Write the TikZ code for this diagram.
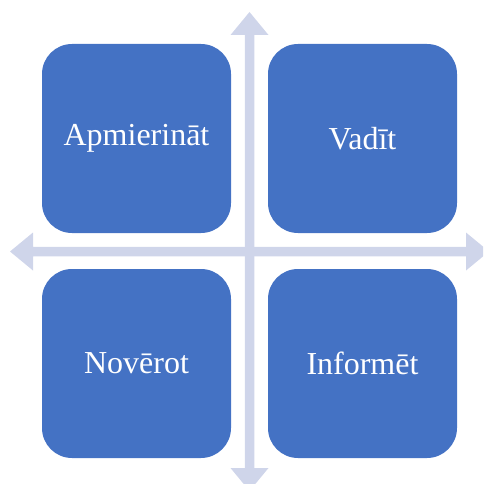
\documentclass[tikz,border=0pt]{standalone}
\usepackage{fontspec}
\setmainfont{Liberation Serif}
\definecolor{boxblue}{HTML}{4472C4}
\definecolor{axiscol}{HTML}{CFD5EA}
\tikzset{
  quad/.style={fill=boxblue, draw=none, rounded corners=30pt, minimum width=189pt, minimum height=189pt, inner sep=0pt, text=white, font=\fontsize{32}{38}\selectfont},
  axis/.style={fill=axiscol, draw=none}
}
\begin{document}
\begin{tikzpicture}[x=1pt,y=-1pt]
\useasboundingbox (0,0) rectangle (483,484);
\begin{scope}
\clip (0,0) rectangle (483,484);
% vertical axis
\fill[axis] (249.5,12) -- (268.5,35) -- (254.25,35) -- (254.25,468) -- (268.5,468) -- (249.5,491) -- (230.5,468) -- (244.75,468) -- (244.75,35) -- (230.5,35) -- cycle;
% horizontal axis
\fill[axis] (10,251.5) -- (33,232.5) -- (33,246.75) -- (466,246.75) -- (466,232.5) -- (489,251.5) -- (466,270.5) -- (466,256.25) -- (33,256.25) -- (33,270.5) -- cycle;
\end{scope}
\node[quad] (tl) at (136.5,138.5) {Apmierināt};
\node[quad] (tr) at (362.5,138.5) {Vadīt};
\node[quad] (bl) at (136.5,363.5) {Novērot};
\node[quad] (br) at (362.5,363.5) {Informēt};
\end{tikzpicture}
\end{document}
